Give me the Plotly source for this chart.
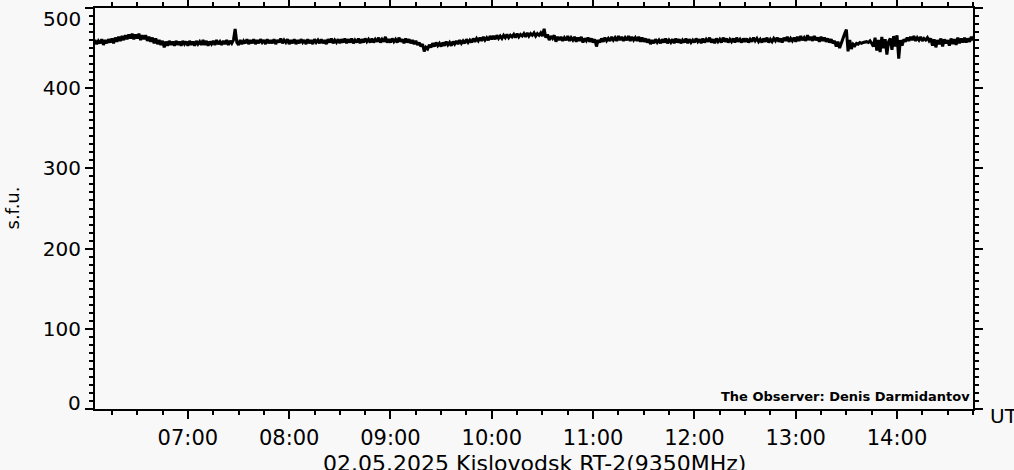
import pandas as pd
import plotly.graph_objects as go

# Flux values (s.f.u.), 1-minute samples per hour block
sfu_06 = [454, 460, 455, 459, 456, 461, 454, 460, 456, 461,
          457, 462, 456, 463, 458, 464, 459, 465, 460, 466,
          461, 467, 462, 468, 461, 467, 462, 468, 460, 466,
          461, 466, 459, 464, 458, 463, 456, 462, 455, 460,
          454, 459, 451, 458, 453, 459, 454, 458, 453, 459,
          454, 458, 453, 459, 455, 458]  # 06:04-06:59
sfu_07 = [453, 459, 454, 458, 453, 459, 455, 458, 454, 460,
          454, 459, 453, 458, 455, 459, 454, 460, 455, 458,
          454, 459, 455, 460, 454, 459, 456, 460, 474, 457,
          454, 460, 455, 459, 456, 461, 455, 460, 456, 461,
          455, 460, 456, 461, 457, 460, 455, 461, 456, 460,
          456, 461, 455, 460, 457, 462, 456, 460, 457, 461]
sfu_08 = [455, 460, 456, 461, 455, 460, 456, 461, 457, 460,
          455, 461, 456, 460, 455, 461, 457, 460, 456, 461,
          456, 460, 455, 461, 457, 462, 456, 460, 457, 461,
          456, 461, 457, 462, 456, 461, 457, 462, 456, 460,
          457, 462, 456, 461, 457, 462, 458, 461, 457, 462,
          457, 461, 458, 463, 457, 461, 458, 464, 457, 461]
sfu_09 = [457, 462, 458, 461, 457, 463, 458, 461, 456, 462,
          457, 461, 456, 460, 455, 459, 454, 457, 452, 455,
          446, 451, 449, 454, 451, 456, 452, 457, 453, 456,
          452, 457, 453, 458, 454, 457, 453, 458, 455, 459,
          455, 460, 456, 459, 456, 461, 457, 460, 457, 462,
          458, 462, 459, 463, 459, 464, 460, 463, 460, 465]
sfu_10 = [461, 465, 461, 466, 462, 465, 462, 466, 463, 467,
          463, 466, 464, 467, 463, 468, 464, 467, 465, 468,
          464, 469, 465, 468, 466, 469, 465, 468, 466, 469,
          465, 474, 463, 467, 460, 465, 462, 466, 458, 464,
          460, 464, 459, 463, 460, 465, 459, 463, 460, 464,
          458, 463, 459, 464, 457, 462, 459, 463, 458, 462]
sfu_11 = [457, 461, 452, 460, 457, 462, 458, 463, 459, 462,
          459, 464, 460, 463, 459, 465, 460, 464, 459, 463,
          460, 465, 459, 464, 460, 463, 459, 464, 458, 463,
          458, 462, 457, 461, 455, 460, 456, 461, 457, 460,
          456, 461, 457, 462, 456, 460, 457, 461, 456, 462,
          457, 461, 456, 460, 457, 462, 456, 461, 457, 460]
sfu_12 = [457, 462, 458, 461, 456, 462, 457, 461, 458, 463,
          457, 461, 456, 462, 458, 461, 457, 463, 458, 462,
          457, 461, 458, 462, 457, 463, 458, 461, 457, 462,
          458, 462, 457, 461, 458, 463, 459, 462, 458, 461,
          457, 462, 458, 463, 457, 461, 458, 462, 459, 463,
          458, 462, 457, 463, 459, 464, 458, 462, 459, 463]
sfu_13 = [458, 464, 459, 465, 460, 463, 459, 466, 460, 464,
          459, 465, 460, 463, 458, 464, 459, 463, 458, 462,
          457, 461, 456, 459, 452, 458, 450, 457, 462, 468,
          473, 446, 460, 449, 455, 453, 456, 455, 457, 456,
          457, 458, 458, 457, 459, 456, 452, 463, 447, 460,
          445, 464, 450, 461, 442, 458, 462, 448, 465, 452]
sfu_14 = [466, 437, 460, 453, 461, 458, 463, 459, 464, 460,
          465, 459, 463, 460, 464, 459, 462, 460, 463, 459,
          462, 453, 461, 451, 460, 455, 462, 452, 461, 456,
          460, 453, 462, 455, 461, 454, 463, 456, 462, 457,
          463, 457, 462, 458, 464, 460, 467]  # 14:00-14:46

hour_blocks = [(6, 4, sfu_06), (7, 0, sfu_07), (8, 0, sfu_08), (9, 0, sfu_09),
               (10, 0, sfu_10), (11, 0, sfu_11), (12, 0, sfu_12), (13, 0, sfu_13),
               (14, 0, sfu_14)]

times, values = [], []
for h, m0, vals in hour_blocks:
    for k, v in enumerate(vals):
        times.append(pd.Timestamp(2025, 5, 2, h, m0 + k))
        values.append(v)

y_ticks = [0, 100, 200, 300, 400, 500]
y_ticktext = ["", "100", "200", "300", "400", ""]   # end labels drawn nudged inward
title_text = "02.05.2025 Kislovodsk RT-2(9350MHz)"
y_title = "s.f.u."
observer = "The Observer: Denis Darmidantov"
x_range = ["2025-05-02 06:05", "2025-05-02 14:45"]

bg = "#f8f8f8"
font = "DejaVu Sans"
ysize = 20

fig = go.Figure(go.Scatter(x=times, y=values, mode="lines",
                           line=dict(color="black", width=3),
                           hoverinfo="skip"))

fig.update_layout(
    width=1014, height=470,
    margin=dict(l=95, r=41, t=8, b=61, autoexpand=False),
    paper_bgcolor=bg, plot_bgcolor=bg,
    showlegend=False,
    font=dict(family=font, color="black"),
)

fig.update_xaxes(
    range=x_range, type="date", automargin=False,
    tickformat="%H:%M", dtick=3600000, tick0="2025-05-02 07:00",
    ticks="outside", ticklen=8, tickwidth=2, tickcolor="black",
    showline=True, linecolor="black", linewidth=2, mirror="allticks",
    showgrid=False, zeroline=False,
    tickfont=dict(family=font, size=21),
    ticklabelstandoff=1, ticklabeloverflow="allow",
    minor=dict(dtick=900000, tick0="2025-05-02 07:00", ticks="outside",
               ticklen=4, tickwidth=2, tickcolor="black", showgrid=False),
)
fig.update_yaxes(
    range=[0, 500], tickmode="array", tickvals=y_ticks, ticktext=y_ticktext,
    automargin=False,
    ticks="outside", ticklen=8, tickwidth=2, tickcolor="black",
    showline=True, linecolor="black", linewidth=2, mirror="allticks",
    showgrid=False, zeroline=False,
    tickfont=dict(family=font, size=ysize),
    ticklabeloverflow="allow",
    minor=dict(dtick=10, tick0=0, ticks="outside", ticklen=4, tickwidth=2,
               tickcolor="black", showgrid=False),
)

# end tick labels, nudged inward as in the original
fig.add_annotation(text=str(y_ticks[-1]), xref="paper", yref="y", x=0, y=y_ticks[-1],
                   xshift=-12, xanchor="right", yanchor="top", yshift=3,
                   showarrow=False, font=dict(family=font, size=ysize, color="black"))
fig.add_annotation(text=str(y_ticks[0]), xref="paper", yref="y", x=0, y=y_ticks[0],
                   xshift=-12, xanchor="right", yanchor="bottom", yshift=-8,
                   showarrow=False, font=dict(family=font, size=ysize, color="black"))

fig.add_annotation(text=title_text, xref="paper", yref="paper", x=0.5, y=0,
                   yshift=-40, xanchor="center", yanchor="top", showarrow=False,
                   font=dict(family=font, size=22, color="black"))
fig.add_annotation(text=y_title, xref="paper", yref="paper", x=0, y=0.5,
                   xshift=-83, xanchor="center", yanchor="middle", showarrow=False,
                   textangle=-90, font=dict(family=font, size=18, color="black"))
fig.add_annotation(text="UT", xref="paper", yref="paper", x=1, y=0,
                   xshift=15, xanchor="left", yanchor="middle", yshift=-7,
                   showarrow=False, font=dict(family=font, size=20, color="black"))
fig.add_annotation(text="<b>" + observer + "</b>", xref="paper", yref="paper",
                   x=1, y=0, xshift=-1, yshift=3, xanchor="right", yanchor="bottom",
                   showarrow=False, font=dict(family=font, size=13, color="black"))

fig.write_html("out.html",
               config={"displayModeBar": False, "staticPlot": True},
               post_script="document.body.style.margin='0';"
                           "document.body.style.overflow='hidden';")
